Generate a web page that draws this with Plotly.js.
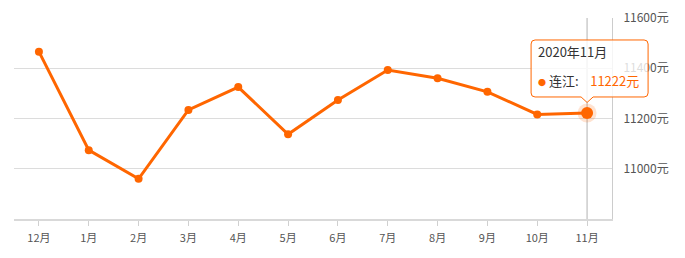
<!DOCTYPE html>
<html>
<head>
<meta charset="utf-8">
<script src="https://cdn.plot.ly/plotly-3.0.1.min.js"></script>
<style>
  html, body { margin: 0; padding: 0; background: #fff; }
  #chart { width: 685px; height: 258px; }
</style>
</head>
<body>
<div id="chart"></div>
<script>
// ---- data ----
const months = ['12月', '1月', '2月', '3月', '4月', '5月', '6月', '7月', '8月', '9月', '10月', '11月'];
const prices = [11466, 11074, 10960, 11234, 11325, 11137, 11274, 11393, 11360, 11306, 11216, 11222];
const seriesName = '连江';
const tooltipTitle = '2020年11月';
const yTicks = [11000, 11200, 11400, 11600];
const yTickText = ['11000元', '11200元', '11400元', '11600元'];
const yUnit = '元';

// ---- style ----
const ORANGE = '#ff6600';
const FONT = '"Noto Sans CJK SC", "Microsoft YaHei", sans-serif';
const yMin = 10800, yMax = 11600;
const hi = months.length - 1; // highlighted (hovered) point

const traces = [
  {
    type: 'scatter', mode: 'lines+markers', name: seriesName,
    x: months, y: prices,
    line: { color: ORANGE, width: 3 },
    marker: { color: ORANGE, size: 8 },
    hoverinfo: 'skip', cliponaxis: false
  },
  { // halo of hovered point
    type: 'scatter', mode: 'markers',
    x: [months[hi]], y: [prices[hi]],
    marker: { color: 'rgba(255,102,0,0.18)', size: 19 },
    hoverinfo: 'skip', cliponaxis: false
  },
  {
    type: 'scatter', mode: 'markers',
    x: [months[hi]], y: [prices[hi]],
    marker: { color: ORANGE, size: 12 },
    hoverinfo: 'skip', cliponaxis: false
  }
];

const ax = (hi + 0.5) / months.length;          // paper x of hovered point
const ay = (prices[hi] - yMin) / (yMax - yMin);  // paper y of hovered point

const tipPath = 'M -52,16 L -6,16 L 0,10.5 L 6,16 L 57,16 Q 61,16 61,20 L 61,69 Q 61,73 57,73 ' +
                'L -52,73 Q -56,73 -56,69 L -56,20 Q -56,16 -52,16 Z';

const layout = {
  width: 685, height: 258,
  margin: { l: 14, r: 73, t: 18, b: 39 },
  paper_bgcolor: '#fff', plot_bgcolor: '#fff',
  showlegend: false,
  font: { family: FONT, size: 11, color: '#555' },
  xaxis: {
    type: 'category', range: [-0.5, months.length - 0.5],
    showgrid: false, zeroline: false,
    showline: true, linecolor: '#d9d9d9', linewidth: 2,
    ticks: 'outside', ticklen: 5, tickwidth: 1, tickcolor: '#d0d0d0',
    tickfont: { family: FONT, size: 11, color: '#555' },
    ticklabelstandoff: 3,
    fixedrange: true
  },
  yaxis: {
    side: 'right', range: [yMin, yMax],
    tickmode: 'array', tickvals: yTicks, ticktext: yTickText,
    showgrid: true, gridcolor: '#dcdcdc', gridwidth: 1,
    zeroline: false,
    showline: true, linecolor: '#cccccc', linewidth: 1,
    ticks: '',
    tickfont: { family: FONT, size: 12, color: '#555' },
    ticklabelstandoff: 8,
    fixedrange: true
  },
  shapes: [
    { // axis pointer line
      type: 'line', xref: 'x', yref: 'paper', x0: months[hi], x1: months[hi], y0: 0, y1: 1,
      line: { color: '#c4c4c4', width: 1.3 }, layer: 'below'
    },
    { // tooltip box
      type: 'path', xref: 'paper', yref: 'paper',
      xsizemode: 'pixel', ysizemode: 'pixel', xanchor: ax, yanchor: ay,
      path: tipPath,
      fillcolor: 'rgba(255,255,255,0.8)',
      line: { color: ORANGE, width: 1 }, layer: 'above'
    }
  ],
  annotations: [
    {
      xref: 'x', yref: 'y', x: months[hi], y: prices[hi],
      xanchor: 'left', yanchor: 'middle', xshift: -51, yshift: 61,
      showarrow: false, align: 'left',
      text: tooltipTitle,
      font: { family: FONT, size: 13, color: '#333' }
    },
    {
      xref: 'x', yref: 'y', x: months[hi], y: prices[hi],
      xanchor: 'left', yanchor: 'middle', xshift: -51, yshift: 32,
      showarrow: false, align: 'left',
      text: '<span style="color:' + ORANGE + ';font-size:8px">●</span>\u00a0' + seriesName + ':\u00a0\u00a0\u00a0\u00a0' +
            '<span style="color:' + ORANGE + '">' + prices[hi] + yUnit + '</span>',
      font: { family: FONT, size: 13, color: '#333' }
    }
  ]
};

Plotly.newPlot('chart', traces, layout, { displayModeBar: false, staticPlot: true });
</script>
</body>
</html>
